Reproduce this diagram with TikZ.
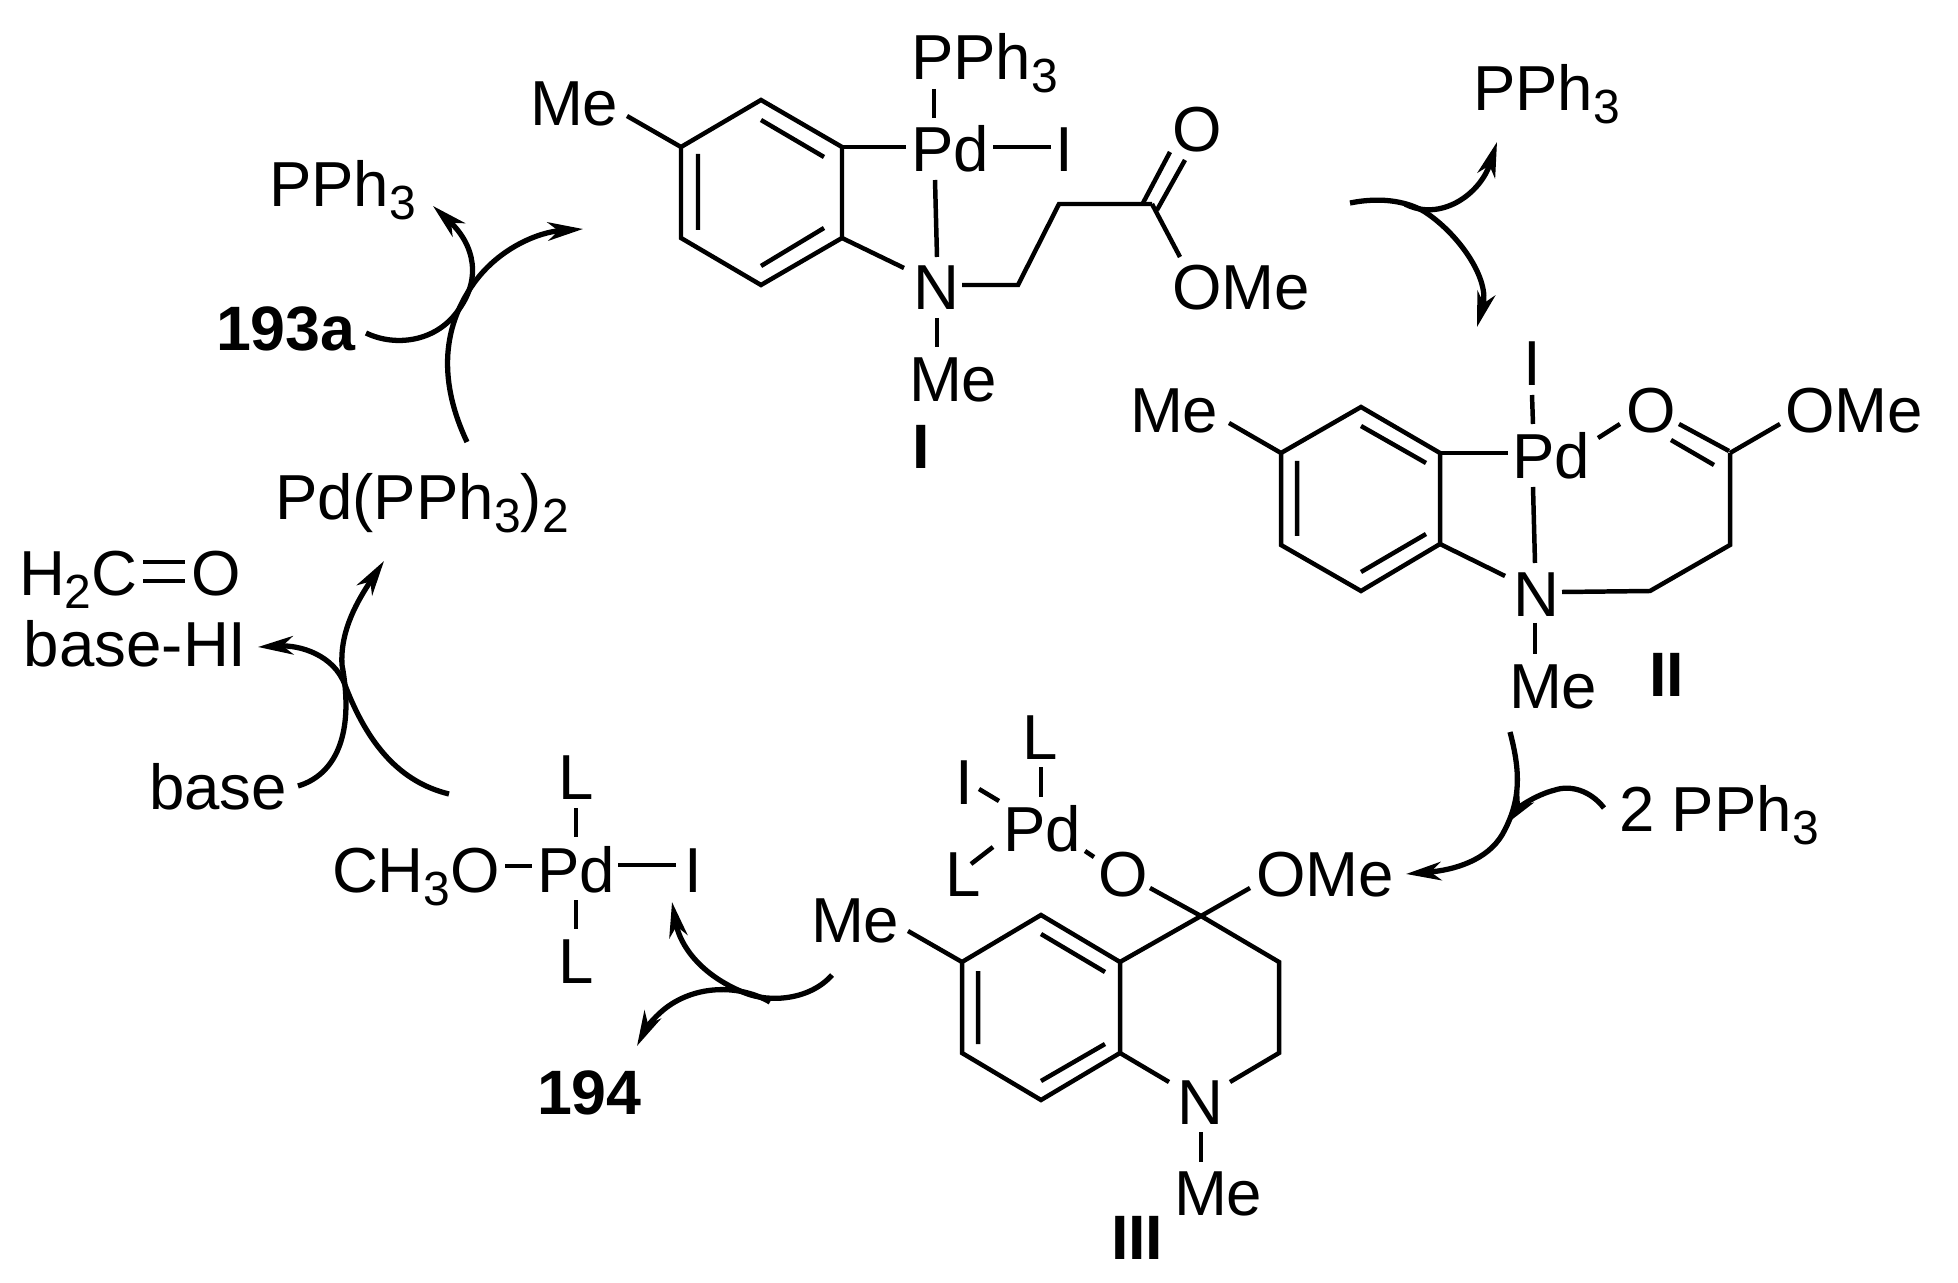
\documentclass[tikz,border=0pt]{standalone}
\usepackage{fontspec}
\setmainfont{Liberation Sans}
\usetikzlibrary{arrows.meta}
\newcommand{\lowidx}[1]{\raisebox{-7.4pt}{\fontsize{27.3}{30}\selectfont #1}}
\tikzset{
  lbl/.style={anchor=base west,inner sep=0pt,outer sep=0pt,font=\fontsize{36.2}{40}\selectfont},
  bld/.style={lbl,font=\fontsize{35.7}{40}\selectfont\bfseries},
  bond/.style={draw=black,line width=2.55pt,line cap=butt,line join=miter},
  curve/.style={draw=black,line width=3pt,line cap=butt},
  arr/.style={curve,-{Stealth[length=20pt,width=10.5pt,inset=6pt]}}
}
\begin{document}
\begin{tikzpicture}[x=0.02cm,y=-0.02cm]
\path[fill=white,use as bounding box] (0,0) rectangle (1958,1283);

% ---------- Complex I
\node[lbl] (MeIa) at (530,126) {Me};
\node[lbl] (PPhI) at (911,80) {PPh\lowidx{3}};
\node[lbl] (PdI) at (911,172) {Pd};
\node[lbl] (IodI) at (1055,172) {I};
\node[lbl] (OdI) at (1172,152) {O};
\node[lbl] (NI) at (913,310) {N};
\node[lbl] (OMeI) at (1172,310) {OMe};
\node[lbl] (MeIb) at (909,402) {Me};
\node[bld] (labI) at (912,469) {I};
\coordinate (a1) at (681,147);
\coordinate (a2) at (761,100);
\coordinate (a3) at (842,147);
\coordinate (a4) at (842,238);
\coordinate (a5) at (761,285);
\coordinate (a6) at (681,238);
\coordinate (a7) at (1018,285);
\coordinate (a8) at (1059,204);
\coordinate (a9) at (1152,204);
\draw[bond] (a1)--(a2)--(a3)--(a4)--(a5)--(a6)--cycle;
\draw[bond] (761,120)--(824,157) (698,154)--(698,230) (824,228)--(761,266);
\draw[bond] (627,116)--(a1);
\draw[bond] (a3)--(906,147);
\draw[bond] (934,89)--(934,118);
\draw[bond] (993,147)--(1051,147);
\draw[bond] (935,180)--(937,257);
\draw[bond] (a4)--(904,268);
\draw[bond] (962,285)--(a7)--(a8)--(a9);
\draw[bond] (1143,203)--(1170,152) (1157,210)--(1185,160);
\draw[bond] (a9)--(1180,257);
\draw[bond] (937,318)--(937,347);

% ---------- Complex II
\node[lbl] (MeIIa) at (1130,433) {Me};
\node[lbl] (IodII) at (1523,386) {I};
\node[lbl] (PdII) at (1512,479) {Pd};
\node[lbl] (OdII) at (1626,433) {O};
\node[lbl] (OMeII) at (1785,433) {OMe};
\node[lbl] (NII) at (1513,617) {N};
\node[lbl] (MeIIb) at (1509,708) {Me};
\node[bld] (labII) at (1649,696) {II};
\coordinate (b1) at (1281,453);
\coordinate (b2) at (1361,407);
\coordinate (b3) at (1440,453);
\coordinate (b4) at (1440,544);
\coordinate (b5) at (1361,591);
\coordinate (b6) at (1281,545);
\coordinate (b7) at (1730,453);
\coordinate (b8) at (1730,545);
\coordinate (b9) at (1650,591);
\draw[bond] (b1)--(b2)--(b3)--(b4)--(b5)--(b6)--cycle;
\draw[bond] (1361,426)--(1426,463) (1297,461)--(1297,536) (1426,534)--(1361,572);
\draw[bond] (1229,423)--(b1);
\draw[bond] (b3)--(1508,453);
\draw[bond] (1532,395)--(1533,424);
\draw[bond] (1598,438)--(1620,424);
\draw[bond] (1679,424)--(1729,451) (1671,440)--(1714,465);
\draw[bond] (b7)--(1780,424);
\draw[bond] (b7)--(b8)--(b9)--(1562,592);
\draw[bond] (1533,487)--(1535,563);
\draw[bond] (b4)--(1505,576);
\draw[bond] (1535,623)--(1535,654);

% ---------- Complex III
\node[lbl] (LIIIa) at (1022,759) {L};
\node[lbl] (IodIII) at (955,804) {I};
\node[lbl] (PdIII) at (1003,851) {Pd};
\node[lbl] (LIIIb) at (945,896) {L};
\node[lbl] (OIII) at (1098,896) {O};
\node[lbl] (OMeIII) at (1256,896) {OMe};
\node[lbl] (MeIIIa) at (811,942) {Me};
\node[lbl] (NIII) at (1177,1124) {N};
\node[lbl] (MeIIIb) at (1174,1215) {Me};
\node[bld] (labIII) at (1111,1259) {III};
\coordinate (c1) at (962,962);
\coordinate (c2) at (1041,915);
\coordinate (c3) at (1120,962);
\coordinate (c4) at (1120,1053);
\coordinate (c5) at (1041,1100);
\coordinate (c6) at (962,1053);
\coordinate (c7) at (1201,916);
\coordinate (c8) at (1279,962);
\coordinate (c9) at (1279,1053);
\draw[bond] (c1)--(c2)--(c3)--(c4)--(c5)--(c6)--cycle;
\draw[bond] (1041,934)--(1105,972) (978,971)--(978,1044) (1105,1044)--(1041,1081);
\draw[bond] (908,931)--(c1);
\draw[bond] (c3)--(c7)--(c8)--(c9)--(1230,1082);
\draw[bond] (c4)--(1169,1082);
\draw[bond] (1150,888)--(c7)--(1250,888);
\draw[bond] (1201,1132)--(1201,1162);
\draw[bond] (1041,767)--(1041,797);
\draw[bond] (979,789)--(999,801);
\draw[bond] (971,864)--(993,847);
\draw[bond] (1085,851)--(1094,857);

% ---------- Pd(II) methoxide
\node[lbl] (CHO) at (332,892) {CH\lowidx{3}O};
\node[lbl] (PdIV) at (537,892) {Pd};
\node[lbl] (IodIV) at (684,892) {I};
\node[lbl] (LIVa) at (558,799) {L};
\node[lbl] (LIVb) at (558,983) {L};
\draw[bond] (505,866)--(532,866);
\draw[bond] (618,865)--(676,865);
\draw[bond] (576,808)--(576,837);
\draw[bond] (576,900)--(576,929);

% ---------- Free species
\node[lbl] (PPhR) at (1473,111) {PPh\lowidx{3}};
\node[lbl] (PPhL) at (269,207) {PPh\lowidx{3}};
\node[lbl] (PPhB) at (1619,831) {2 PPh\lowidx{3}};
\node[bld] (a193) at (216,351) {193a};
\node[bld] (b194) at (537,1114) {194};
\node[lbl] (Pd0) at (275,520) {Pd(PPh\lowidx{3})\lowidx{2}};
\node[lbl] (form) at (19,596) {H\lowidx{2}C};
\node[lbl] (formO) at (191,596) {O};
\node[lbl] (baseHI) at (24,666) {base-HI};
\node[lbl] (basen) at (149,809) {base};
\draw[bond] (143,562)--(185,562) (143,581)--(185,581);

% ---------- Curved arrows
\coordinate (k1) at (1350,203);
\coordinate (k2) at (1477,327);
\coordinate (k3) at (1405,204);
\coordinate (k4) at (1497,142);
\draw[arr] (k1) .. controls (1385,196) and (1410,203) .. (1425,212) .. controls (1460,235) and (1490,280) .. (k2);
\draw[arr] (k3) .. controls (1440,222) and (1480,195) .. (k4);

\coordinate (k5) at (1510,732);
\coordinate (k6) at (1406,874);
\coordinate (k7) at (1604,808);
\coordinate (k8) at (1505,825);
\draw[arr] (k5) .. controls (1520,770) and (1522,800) .. (1502,835) .. controls (1487,860) and (1455,870) .. (k6);
\draw[arr] (k7) .. controls (1590,790) and (1570,785) .. (1555,790) .. controls (1535,795) and (1518,808) .. (k8);

\coordinate (k9) at (832,975);
\coordinate (k10) at (672,902);
\coordinate (k11) at (770,1002);
\coordinate (k12) at (637,1046);
\draw[arr] (k9) .. controls (810,1000) and (770,1003) .. (745,993) .. controls (700,975) and (680,945) .. (k10);
\draw[arr] (k11) .. controls (740,985) and (700,985) .. (670,1005) .. controls (655,1015) and (645,1030) .. (k12);

\coordinate (k13) at (298,786);
\coordinate (k14) at (384,561);
\coordinate (k15) at (449,794);
\coordinate (k16) at (258,647);
\draw[arr] (k13) .. controls (335,775) and (355,735) .. (342,665) .. controls (340,630) and (358,600) .. (k14);
\draw[arr] (k15) .. controls (400,782) and (368,745) .. (345,685) .. controls (334,655) and (300,645) .. (k16);

\coordinate (k17) at (467,442);
\coordinate (k18) at (583,229);
\coordinate (k19) at (366,333);
\coordinate (k20) at (433,206);
\draw[arr] (k17) .. controls (440,385) and (440,330) .. (474,283) .. controls (500,247) and (540,232) .. (k18);
\draw[arr] (k19) .. controls (395,347) and (435,342) .. (457,312) .. controls (482,280) and (475,245) .. (k20);
\end{tikzpicture}
\end{document}
